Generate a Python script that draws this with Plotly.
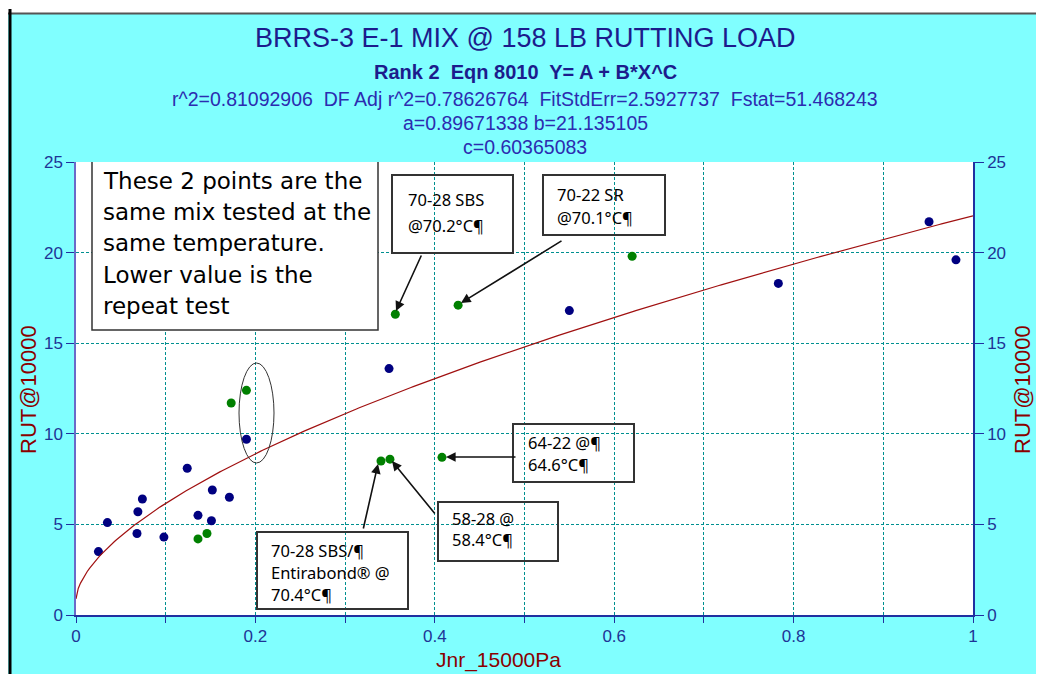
import numpy as np
import plotly.graph_objs as go

# Blue points (other mixes)
blue_x = [0.025, 0.035, 0.068, 0.069, 0.074, 0.098, 0.124, 0.136, 0.151, 0.152, 0.171, 0.190,
          0.349, 0.550, 0.783, 0.951, 0.981]
blue_y = [3.5, 5.1, 4.5, 5.7, 6.4, 4.3, 8.1, 5.5, 5.2, 6.9, 6.5, 9.7,
          13.6, 16.8, 18.3, 21.7, 19.6]

# Green points (labelled mixes)
green_x = [0.136, 0.146, 0.173, 0.190, 0.340, 0.350, 0.356, 0.408, 0.426, 0.620]
green_y = [4.2, 4.5, 11.7, 12.4, 8.5, 8.6, 16.6, 8.7, 17.1, 19.8]

# Fit Y = A + B*X^C
fit_a = 0.89671338
fit_b = 21.135105
fit_c = 0.60365083

x_ticks = [0, 0.2, 0.4, 0.6, 0.8, 1]
y_ticks = [0, 5, 10, 15, 20, 25]

# plot area in page pixels; the page body adds an 8px margin round the figure
OFF = 8
W, H = 1044, 682
PX0, PX1, PY0, PY1 = 76, 973, 162, 615


def dx(px):
    return (px - PX0) / (PX1 - PX0)


def dy(py):
    return (PY1 - py) / (PY1 - PY0) * 25


def pxp(px):
    return (px - PX0) / (PX1 - PX0)


def pyp(py):
    return (PY1 - py) / (PY1 - PY0)


fit_x = np.linspace(0, 1, 400)
fit_y = fit_a + fit_b * fit_x ** fit_c

data = [
    go.Scatter(x=fit_x, y=fit_y, mode='lines', line=dict(color='#a01010', width=1.2), yaxis='y2',
               hoverinfo='skip'),
    go.Scatter(x=blue_x, y=blue_y, mode='markers', marker=dict(color='#000080', size=9)),
    go.Scatter(x=green_x, y=green_y, mode='markers', marker=dict(color='#008000', size=9)),
]

tick_font = dict(family='Liberation Sans', size=17, color='#1e3496')
grid = dict(gridcolor='#009090', griddash='3px,2px', gridwidth=1)

layout = {
    "width": W - 2 * OFF, "height": H - 2 * OFF,
    "margin": dict(l=PX0 - OFF, r=W - OFF - PX1, t=PY0 - OFF, b=H - OFF - PY1),
    "paper_bgcolor": '#80ffff',
    "plot_bgcolor": 'white',
    "showlegend": False,
    "xaxis": dict(range=[0, 1], tickvals=x_ticks, ticktext=[str(v) for v in x_ticks], showgrid=True, **grid,
                  minor=dict(dtick=0.1, showgrid=True, ticks='outside', ticklen=6, tickcolor='#2030a0', **grid),
                  ticks='outside', ticklen=5, tickcolor='#2030a0', tickfont=tick_font,
                  showline=True, linecolor='#2030a0', linewidth=2, zeroline=False),
    "yaxis": dict(range=[0, 25], tickvals=y_ticks, showgrid=True, **grid, ticks='outside', ticklen=8,
                  tickcolor='#2030a0', tickfont=tick_font, showline=True, linecolor='#6a6ac8', linewidth=1.5,
                  zeroline=False),
    "yaxis2": dict(range=[0, 25], tickvals=y_ticks, overlaying='y', side='right', showgrid=False, ticks='outside',
                   ticklen=9, tickcolor='#2030a0', tickfont=tick_font, showline=True, linecolor='#2030a0',
                   linewidth=1.5, zeroline=False),
}

fig = go.Figure(data=data, layout=layout)

# Titles
title_lines = [
    ('BRRS-3 E-1 MIX @ 158 LB RUTTING LOAD', 38, 27, '#1c1c8c', False),
    ('Rank 2  Eqn 8010  Y= A + B*X^C', 72, 20, '#1c1c8c', True),
    ('r^2=0.81092906  DF Adj r^2=0.78626764  FitStdErr=2.5927737  Fstat=51.468243', 99, 19.5, '#2c2cb0', False),
    ('a=0.89671338 b=21.135105', 123, 19.5, '#2c2cb0', False),
    ('c=0.60365083', 147, 19.5, '#2c2cb0', False),
]
for text, ypx, size, color, bold in title_lines:
    fig.add_annotation(text='<b>%s</b>' % text if bold else text, xref='paper', yref='paper',
                       x=pxp(525), y=pyp(ypx), showarrow=False, xanchor='center', yanchor='middle',
                       font=dict(family='Liberation Sans', size=size, color=color))

# Axis titles
fig.add_annotation(text='Jnr_15000Pa', xref='paper', yref='paper', x=pxp(498), y=pyp(660), showarrow=False,
                   xanchor='center', yanchor='middle',
                   font=dict(family='Liberation Sans', size=21, color='#8b0000'))
for xpx in [28, 1022]:
    fig.add_annotation(text='RUT@10000', xref='paper', yref='paper', x=pxp(xpx), y=pyp(390), showarrow=False,
                       xanchor='center', yanchor='middle', textangle=-90,
                       font=dict(family='Liberation Sans', size=22, color='#8b0000'))

# Outer frame
fig.add_shape(type='rect', xref='paper', yref='paper', x0=pxp(-5), x1=pxp(1050), y0=pyp(13), y1=pyp(-5),
              fillcolor='white', line_width=0)
fig.add_shape(type='line', xref='paper', yref='paper', x0=pxp(0), x1=pxp(1044), y0=pyp(13.5), y1=pyp(13.5),
              line=dict(color='#555555', width=2))
fig.add_shape(type='line', xref='paper', yref='paper', x0=pxp(10), x1=pxp(10), y0=pyp(9), y1=pyp(682),
              line=dict(color='#000000', width=3))

# Big note box
fig.add_shape(type='rect', x0=dx(92), x1=dx(378), y0=dy(330), y1=dy(157), fillcolor='white',
              line=dict(color='#333333', width=1.5))
note_lines = ['These 2 points are the', 'same mix tested at the', 'same temperature.', 'Lower value is the',
              'repeat test']
for i, t in enumerate(note_lines):
    fig.add_annotation(text=t, x=dx(101), y=dy(181 + i * 31.2), xanchor='left', yanchor='middle', showarrow=False,
                       font=dict(family='DejaVu Sans', size=23, color='black'))

# Ellipse around repeat points
fig.add_shape(type='circle', x0=dx(239), x1=dx(274), y0=dy(463), y1=dy(363), line=dict(color='#333333', width=1))

# Small label boxes: (x0, y0, x1, y1) in pixels, text lines, text left, first line y, step
boxes = [
    ((392, 175, 513, 253), ['70-28 SBS', '@70.2°C¶'], 406, 199, 26),
    ((543, 175, 665, 235), ['70-22 SR', '@70.1°C¶'], 555, 194, 23),
    ((513, 424, 634, 482), ['64-22 @¶', '64.6°C¶'], 526, 442, 22),
    ((438, 502, 558, 561), ['58-28 @', '58.4°C¶'], 450, 518, 21),
    ((257, 532, 408, 609), ['70-28 SBS/¶', 'Entirabond® @', '70.4°C¶'], 269, 550, 22),
]
for (bx0, by0, bx1, by1), lines, tx, ty, step in boxes:
    fig.add_shape(type='rect', x0=dx(bx0), x1=dx(bx1), y0=dy(by1), y1=dy(by0),
                  line=dict(color='#333333', width=2))
    for i, t in enumerate(lines):
        fig.add_annotation(text=t, x=dx(tx), y=dy(ty + i * step), xanchor='left', yanchor='middle',
                           showarrow=False, font=dict(family='Noto Sans', size=16.5, color='black'))

# Arrows: tail pixel -> head pixel
arrows = [
    ((422, 254), (396, 311)),
    ((563, 240), (461, 303)),
    ((517, 457), (446, 457)),
    ((436, 515), (392, 461)),
    ((363, 530), (378, 464)),
]
for (tx, ty), (hx, hy) in arrows:
    fig.add_annotation(text='', x=dx(hx), y=dy(hy), ax=dx(tx), ay=dy(ty), axref='x', ayref='y',
                       showarrow=True, arrowhead=2, arrowsize=1.2, arrowwidth=1.6, arrowcolor='#111111')

fig.write_html("out.html")
